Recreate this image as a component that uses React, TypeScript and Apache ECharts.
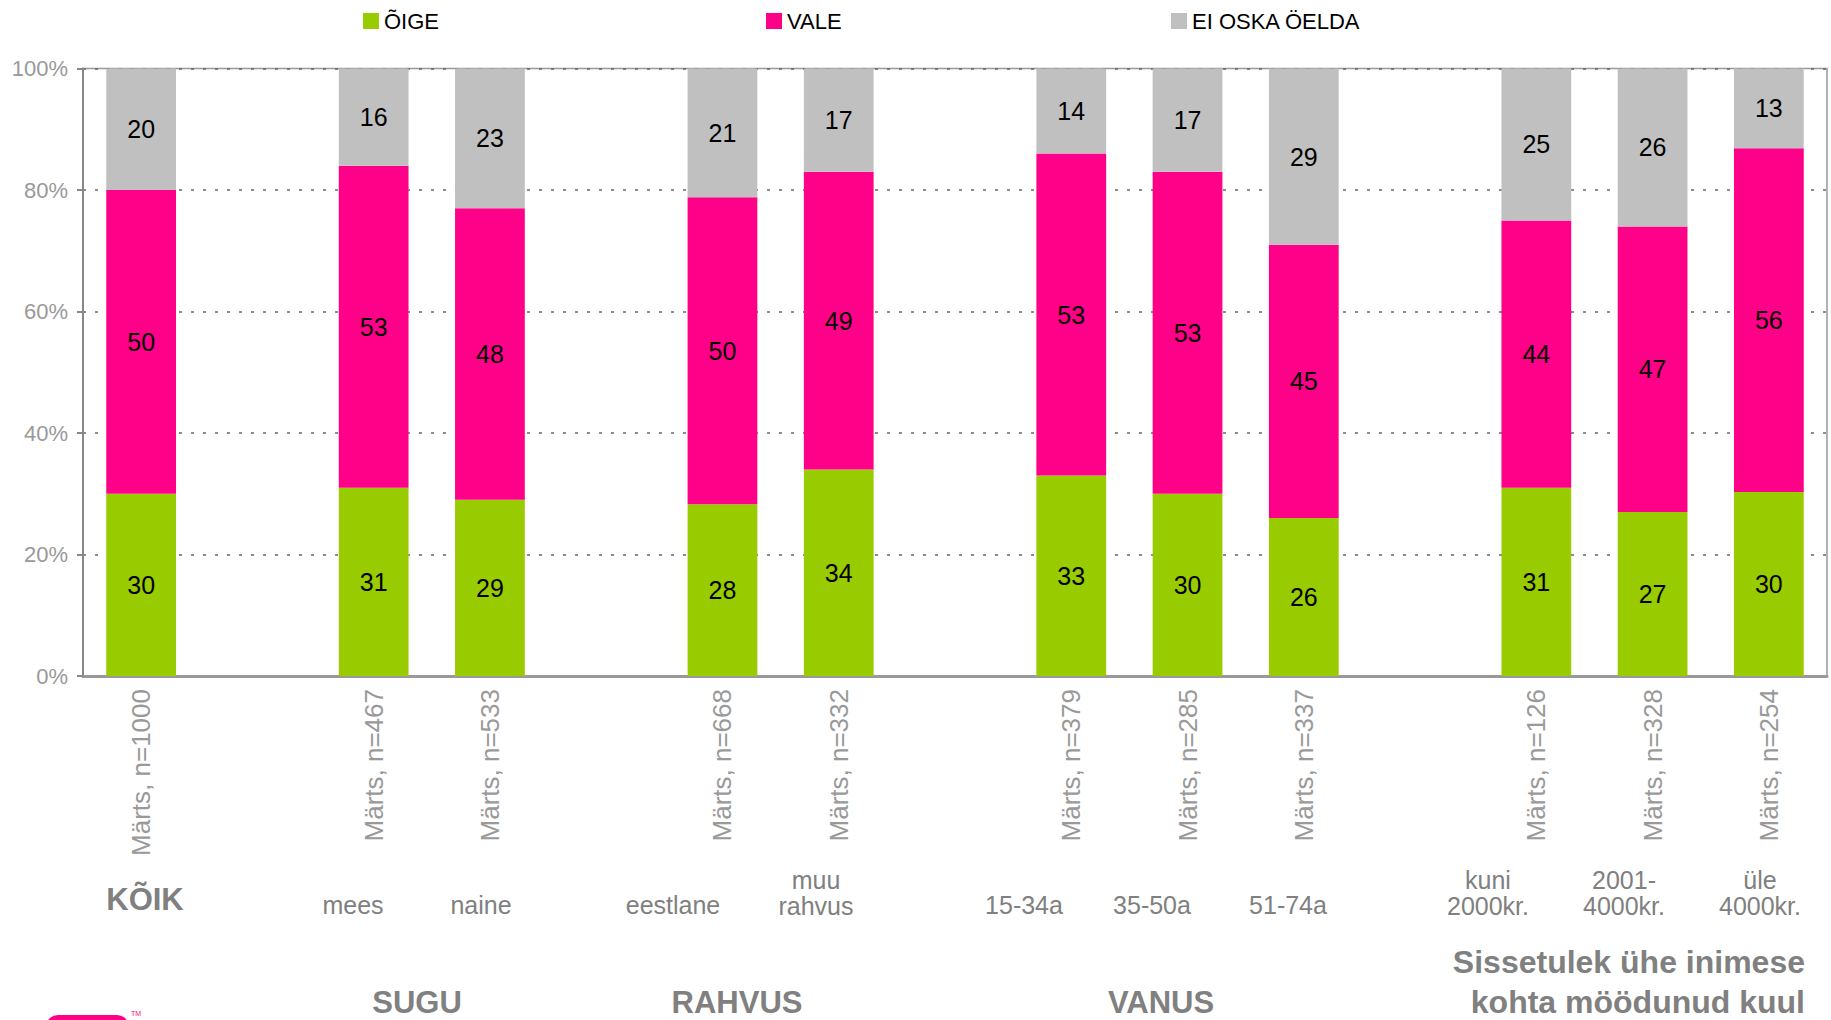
import React, { useEffect, useRef } from "react";
import * as echarts from "echarts";

// ---- data ----
const seriesNames = ["ÕIGE", "VALE", "EI OSKA ÖELDA"];
const sampleSizes = [1000, 467, 533, 668, 332, 379, 285, 337, 126, 328, 254];
const oige = [30, 31, 29, 28, 34, 33, 30, 26, 31, 27, 30];
const vale = [50, 53, 48, 50, 49, 53, 53, 45, 44, 47, 56];
const eiOska = [20, 16, 23, 21, 17, 14, 17, 29, 25, 26, 13];
const subLabels = ["KÕIK", "mees", "naine", "eestlane", "muu\nrahvus", "15-34a", "35-50a", "51-74a", "kuni\n2000kr.", "2001-\n4000kr.", "üle\n4000kr."];
const groupTitles = ["SUGU", "RAHVUS", "VANUS", "Sissetulek ühe inimese\nkohta möödunud kuul"];
const yTicks = [0, 20, 40, 60, 80, 100];
// slot index of each bar on the category axis (empty slots are gaps)
const slotOf = [0, 2, 3, 5, 6, 8, 9, 10, 12, 13, 14];
const slotCount = 15;

// ---- layout ----
const FONT = "'Liberation Sans', Arial, sans-serif";
const subLabelPos = [
  [145, 899], [353, 905], [481, 905], [673, 905], [816, 893],
  [1024, 905], [1152, 905], [1288, 905], [1488, 893], [1624, 893], [1760, 893],
];
const groupTitlePos = [[417, 1002], [737, 1002], [1161, 1002]];
const COLORS = ["#99CC00", "#FF0088", "#C0C0C0"];

export default function App() {
  const ref = useRef<HTMLDivElement>(null);
  useEffect(() => {
    if (!ref.current) return;
    const chart = echarts.init(ref.current, null, { renderer: "svg" });
    const raw = [oige, vale, eiOska];
    const totals = oige.map((_, i) => oige[i] + vale[i] + eiOska[i]);
    const cats: string[] = new Array(slotCount).fill("");
    slotOf.forEach((s, i) => (cats[s] = `Märts, n=${sampleSizes[i]}`));

    const series = raw.map((arr, si) => {
      const data: any[] = new Array(slotCount).fill(null);
      slotOf.forEach((s, i) => {
        data[s] = { value: (arr[i] / totals[i]) * 100, raw: arr[i] };
      });
      return {
        name: seriesNames[si],
        type: "bar",
        stack: "total",
        barWidth: "60%",
        itemStyle: { color: COLORS[si] },
        data,
        label: {
          show: true,
          position: "inside",
          color: "#000",
          fontSize: 25,
          fontFamily: FONT,
          formatter: (p: any) => (p.data ? String(p.data.raw) : ""),
        },
      };
    });

    const legendX = [358, 761, 1166];
    const legends = seriesNames.map((n, i) => ({
      data: [n],
      left: legendX[i],
      top: 5,
      icon: "rect",
      itemWidth: 16,
      itemHeight: 16,
      itemGap: 5,
      selectedMode: false,
      textStyle: { fontSize: 22, color: "#000", fontFamily: FONT, padding: [0, 0, 0, 0] },
    }));

    const graphics: any[] = [];
    subLabels.forEach((t, i) => {
      const bold = i === 0;
      graphics.push({
        type: "text",
        x: subLabelPos[i][0],
        y: subLabelPos[i][1],
        style: {
          text: t,
          fill: "#808080",
          font: `${bold ? "bold 31px" : "25px"} ${FONT}`,
          align: "center",
          verticalAlign: "middle",
          lineHeight: 26,
        },
      });
    });
    groupTitles.slice(0, 3).forEach((t, i) => {
      graphics.push({
        type: "text",
        x: groupTitlePos[i][0],
        y: groupTitlePos[i][1],
        style: { text: t, fill: "#808080", font: `bold 31px ${FONT}`, align: "center", verticalAlign: "middle" },
      });
    });
    graphics.push({
      type: "text",
      x: 1805,
      y: 982,
      style: {
        text: groupTitles[3],
        fill: "#808080",
        font: `bold 32px ${FONT}`,
        align: "right",
        verticalAlign: "middle",
        lineHeight: 40,
      },
    });
    // logo fragment
    graphics.push({
      type: "rect",
      shape: { x: 46, y: 1015, width: 83, height: 30, r: 12 },
      style: { fill: "#FF0088" },
    });
    graphics.push({
      type: "text",
      x: 131,
      y: 1013,
      style: { text: "TM", fill: "#FF0088", font: `7px ${FONT}`, align: "left", verticalAlign: "middle" },
    });

    chart.setOption({
      animation: false,
      legend: legends,
      grid: {
        left: 83,
        top: 68.5,
        right: 4,
        bottom: 344,
        show: true,
        borderColor: "#999",
        borderWidth: 1.5,
        backgroundColor: "transparent",
      },
      xAxis: {
        type: "category",
        data: cats,
        axisLine: { show: true, lineStyle: { color: "#999", width: 3 } },
        axisTick: { show: false },
        axisLabel: {
          rotate: 90,
          interval: 0,
          color: "#999",
          fontSize: 26,
          fontFamily: FONT,
          margin: 13,
        },
      },
      yAxis: {
        type: "value",
        min: yTicks[0],
        max: yTicks[yTicks.length - 1],
        interval: 20,
        axisLine: { show: true, lineStyle: { color: "#888", width: 2 } },
        axisTick: { show: true, length: 6, lineStyle: { color: "#888", width: 2 } },
        axisLabel: {
          formatter: "{value}%",
          color: "#999",
          fontSize: 22,
          fontFamily: FONT,
          margin: 15,
        },
        splitLine: { show: true, lineStyle: { color: "#666", width: 1.5, type: [3, 9] } },
      },
      series,
      graphic: graphics,
    });
    return () => chart.dispose();
  }, []);
  return (
    <div
      ref={ref}
      style={{ position: "fixed", left: 0, top: 0, width: 1831, height: 1020, background: "#fff" }}
    />
  );
}
